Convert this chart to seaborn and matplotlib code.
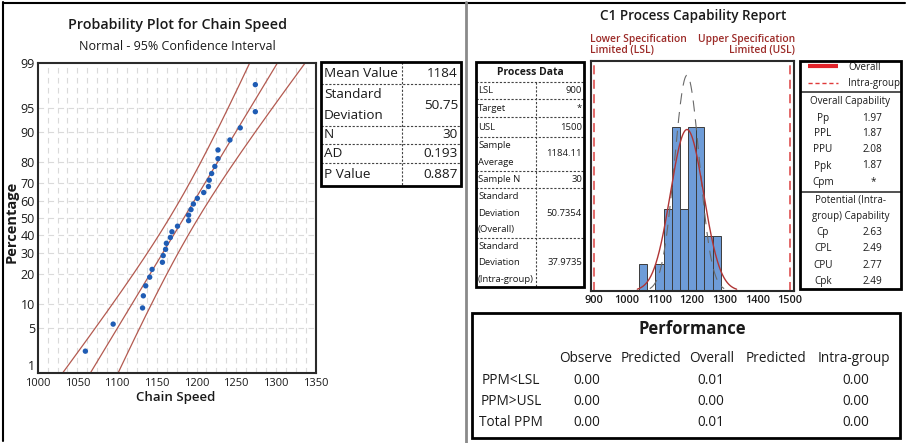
import numpy as np
import pandas as pd
import matplotlib
matplotlib.use("Agg")
import matplotlib.pyplot as plt
import seaborn as sns
from statistics import NormalDist
from matplotlib.patches import Rectangle

# ---------------- data ----------------
chain_speed = [1060, 1095, 1132, 1133, 1136, 1141, 1144, 1157, 1158, 1161,
               1162, 1167, 1169, 1176, 1190, 1190, 1193, 1196, 1201, 1209,
               1215, 1216, 1219, 1223, 1227, 1227, 1242, 1255, 1274, 1274]
prob_ticks = [1, 5, 10, 20, 30, 40, 50, 60, 70, 80, 90, 95, 99]
speed_ticks = [1000, 1050, 1100, 1150, 1200, 1250, 1300, 1350]
cap_ticks = [900, 1000, 1100, 1200, 1300, 1400, 1500]

stats_labels = [["Mean Value"], ["Standard", "Deviation"], ["N"], ["AD"], ["P Value"]]
stats_values = ["1184", "50.75", "30", "0.193", "0.887"]

lsl = 900
usl = 1500
sample_mean = 1184.11
sd_overall = 50.7354
sd_intra = 37.9735
bin_width = 25

process_labels = [["LSL"], ["Target"], ["USL"], ["Sample", "Average"], ["Sample N"],
                  ["Standard", "Deviation", "(Overall)"],
                  ["Standard", "Deviation", "(Intra-group)"]]
process_values = ["900", "*", "1500", "1184.11", "30", "50.7354", "37.9735"]

overall_cap_labels = ["Pp", "PPL", "PPU", "Ppk", "Cpm"]
overall_cap_values = ["1.97", "1.87", "2.08", "1.87", "*"]
potential_labels = ["Cp", "CPL", "CPU", "Cpk"]
potential_values = ["2.63", "2.49", "2.77", "2.49"]

perf_columns = ["Observe", "Predicted", "Overall", "Predicted", "Intra-group"]
perf_rows = ["PPM<LSL", "PPM>USL", "Total PPM"]
perf_observed = ["0.00", "0.00", "0.00"]
perf_overall = ["0.01", "0.00", "0.01"]
perf_intra = ["0.00", "0.00", "0.00"]

# ---------------- setup ----------------
sns.set_style("white")
plt.rcParams['font.family'] = ['Open Sans', 'DejaVu Sans']
W, H = 907, 443
fig = plt.figure(figsize=(W / 100, H / 100), dpi=100)


def px_rect(x0, y0, x1, y1):
    return [x0 / W, 1 - y1 / H, (x1 - x0) / W, (y1 - y0) / H]


ov = fig.add_axes([0, 0, 1, 1])
ov.set_xlim(0, W)
ov.set_ylim(H, 0)
ov.axis('off')
ov.patch.set_alpha(0)

TXT = '#1a1a1a'


def T(x, y, s, **kw):
    kw.setdefault('color', TXT)
    kw.setdefault('va', 'center')
    ov.text(x, y, s, **kw)


def hline(x0, x1, y, dashed=True, lw=0.8, color='#444444'):
    ov.plot([x0, x1], [y, y], color=color, lw=lw, ls=(0, (2, 1.5)) if dashed else '-',
            solid_capstyle='butt')


def vline(x, y0, y1, dashed=True, lw=0.8, color='#444444'):
    ov.plot([x, x], [y0, y1], color=color, lw=lw, ls=(0, (2, 1.5)) if dashed else '-',
            solid_capstyle='butt')


# frame lines
ov.plot([3, 905], [2.5, 2.5], color='black', lw=1.5)
ov.plot([3, 3], [2, 441], color='black', lw=1.5)
ov.plot([466, 466], [2, 443], color='#8a8a8a', lw=2)

# ---------------- probability plot ----------------
nd = NormalDist()
n = len(chain_speed)
sorted_speed = sorted(chain_speed)
zpos = [nd.inv_cdf((i + 1 - 0.3) / (n + 0.4)) for i in range(n)]
df = pd.DataFrame({"speed": sorted_speed, "z": zpos})

ax1 = fig.add_axes(px_rect(37.7, 62.5, 315.7, 373.3))
zt = [nd.inv_cdf(p / 100) for p in prob_ticks]
for xg in np.arange(speed_ticks[0] + 12.5, speed_ticks[-1], 12.5):
    ax1.axvline(xg, color='#dadada', lw=0.8, ls=(0, (5, 4)), zorder=0)
for yg in zt[1:-1]:
    ax1.axhline(yg, color='#dadada', lw=0.8, ls=(0, (5, 4)), zorder=0)

zg = np.linspace(-2.8, 2.8, 300)
sd_fit = float(stats_values[1])
fitx = sample_mean + zg * sd_fit
se = sd_fit * np.sqrt(1 / n + zg ** 2 / (2 * n))
line_col = '#b35a50'
for xs in (fitx, fitx - 1.96 * se, fitx + 1.96 * se):
    sns.lineplot(x=xs, y=zg, ax=ax1, color=line_col, lw=0.9, sort=False,
                 estimator=None, zorder=2)
sns.scatterplot(data=df, x="speed", y="z", ax=ax1, color="#1f5cb4", s=15,
                edgecolor="none", zorder=4)
ax1.set_xlim(speed_ticks[0], speed_ticks[-1])
ax1.set_ylim(zt[0], zt[-1])
ax1.set_xticks(speed_ticks)
ax1.set_yticks(zt)
ax1.set_yticklabels([str(p) for p in prob_ticks])
ax1.tick_params(axis='y', length=0, pad=2, labelsize=9, colors=TXT)
ax1.tick_params(axis='x', length=0, pad=3.5, labelsize=8, colors=TXT)
ax1.get_yticklabels()[0].set_va('bottom')
ax1.set_xlabel("")
ax1.set_ylabel("")
for s in ax1.spines.values():
    s.set_color('#2a2a2a')
    s.set_linewidth(1.5)

T(177, 25, "Probability Plot for Chain Speed", ha='center', fontsize=10.3, fontweight='semibold')
T(177, 46.5, "Normal - 95% Confidence Interval", ha='center', fontsize=9)
T(176, 398, "Chain Speed", ha='center', fontsize=9.5, fontweight='semibold')
T(12, 222, "Percentage", ha='center', fontsize=10.5, fontweight='bold', rotation=90)

# stats table
sx0, sx1, sxs = 321, 461, 402
srows = [62, 84, 126, 144, 163, 186]
for i, (lab, val) in enumerate(zip(stats_labels, stats_values)):
    y0, y1 = srows[i], srows[i + 1]
    if len(lab) == 1:
        T(324, (y0 + y1) / 2, lab[0], fontsize=9.7)
    else:
        T(324, y0 + 10, lab[0], fontsize=9.7)
        T(324, y1 - 11, lab[1], fontsize=9.7)
    T(458, (y0 + y1) / 2, val, ha='right', fontsize=9.7)
    if i > 0:
        hline(sx0, sx1, y0)
vline(sxs, srows[0], srows[-1])
ov.add_patch(Rectangle((sx0, srows[0]), sx1 - sx0, srows[-1] - srows[0], fill=False,
                       lw=2, ec='black', zorder=5))

# ---------------- capability report ----------------
T(693, 16, "C1 Process Capability Report", ha='center', fontsize=9.8, fontweight='semibold')
red_txt = '#9c2b28'
T(590, 39, "Lower Specification", ha='left', fontsize=7.4, fontweight='semibold', color=red_txt)
T(590, 50.5, "Limited (LSL)", ha='left', fontsize=7.4, fontweight='semibold', color=red_txt)
T(795, 39, "Upper Specification", ha='right', fontsize=7.4, fontweight='semibold', color=red_txt)
T(795, 50.5, "Limited (USL)", ha='right', fontsize=7.4, fontweight='semibold', color=red_txt)

# process data table
px0, px1, pxs = 476, 584, 536
prow = [82, 99, 117, 137, 171, 188, 238, 287]
T((px0 + px1) / 2, 72, "Process Data", ha='center', fontsize=7.5, fontweight='bold')
hline(px0, px1, prow[0])
for i, (lab, val) in enumerate(zip(process_labels, process_values)):
    y0, y1 = prow[i], prow[i + 1]
    k = len(lab)
    step = 16.5
    yc = (y0 + y1) / 2
    for j, line in enumerate(lab):
        T(478, yc + (j - (k - 1) / 2) * step, line, fontsize=6.8)
    T(582, yc, val, ha='right', fontsize=6.8)
    if i > 0:
        hline(px0, px1, y0)
vline(pxs, prow[0], prow[-1])
ov.add_patch(Rectangle((px0, 62), px1 - px0, prow[-1] - 62, fill=False, lw=2,
                       ec='black', zorder=5))

# histogram
ax2 = fig.add_axes(px_rect(591, 61, 794, 291))
edges = np.arange(1037.5, 1300, bin_width)
sns.histplot(x=chain_speed, bins=edges, ax=ax2, color='#6e9cd8', edgecolor='#3c3c3c',
             linewidth=0.7, alpha=1, stat='count', zorder=2)
nd_o = NormalDist(sample_mean, sd_overall)
nd_i = NormalDist(sample_mean, sd_intra)
xo = np.linspace(sample_mean - 3 * sd_overall, sample_mean + 3 * sd_overall, 300)
xi = np.linspace(sample_mean - 3 * sd_intra, sample_mean + 3 * sd_intra, 300)
yo = [n * bin_width * nd_o.pdf(v) for v in xo]
yi = [n * bin_width * nd_i.pdf(v) for v in xi]
sns.lineplot(x=xi, y=yi, ax=ax2, color='#6a6a6a', lw=0.8, ls=(0, (10, 7)), zorder=3)
sns.lineplot(x=xo, y=yo, ax=ax2, color='#b03535', lw=1.0, zorder=4)
for spec in (lsl, usl):
    ax2.axvline(spec, color='#e05e5e', lw=1.3, ls=(0, (5, 3)), zorder=1)
ax2.set_xlim(890, 1512)
ax2.set_ylim(0, 8.4)
ax2.set_xticks(cap_ticks)
ax2.set_yticks([])
ax2.set_xlabel("")
ax2.set_ylabel("")
ax2.tick_params(length=0, pad=3, labelsize=7.8, colors=TXT)
for lab in ax2.get_xticklabels():
    lab.set_fontweight('semibold')
for s in ax2.spines.values():
    s.set_color('#2a2a2a')
    s.set_linewidth(1.5)

# right capability table
rx0, rx1 = 800, 901
ov.plot([808, 838], [66, 66], color='#e3232a', lw=3, solid_capstyle='butt')
ov.plot([808, 838], [83, 83], color='#e03a3a', lw=1, ls=(0, (3, 2)))
T(848, 67, "Overall", fontsize=7)
T(848, 83, "Intra-group", fontsize=7)
hline(rx0, rx1, 92, dashed=False, lw=1.2, color='#333333')
T((rx0 + rx1) / 2, 101, "Overall Capability", ha='center', fontsize=7)
for k, (lab, val) in enumerate(zip(overall_cap_labels, overall_cap_values)):
    y = 118 + k * 16
    T(823, y, lab, ha='center', fontsize=7.2)
    if val == '*':
        T(873, y, val, ha='center', fontsize=7.2)
    else:
        T(882, y, val, ha='right', fontsize=7.2)
hline(rx0, rx1, 192, dashed=False, lw=1.2, color='#333333')
T((rx0 + rx1) / 2, 200, "Potential (Intra-", ha='center', fontsize=7)
T((rx0 + rx1) / 2, 216, "group) Capability", ha='center', fontsize=7)
for k, (lab, val) in enumerate(zip(potential_labels, potential_values)):
    y = 232.5 + k * 16.3
    T(823, y, lab, ha='center', fontsize=7.2)
    T(882, y, val, ha='right', fontsize=7.2)
ov.add_patch(Rectangle((rx0, 61), rx1 - rx0, 289 - 61, fill=False, lw=2, ec='black', zorder=5))

# performance table
ov.add_patch(Rectangle((472, 313), 900 - 472, 438 - 313, fill=False, lw=2, ec='black', zorder=5))
T(692, 329, "Performance", ha='center', fontsize=12, fontweight='bold')
col_x = [586, 651, 712, 776, 854]
for cx, c in zip(col_x, perf_columns):
    T(cx, 358, c, ha='center', fontsize=9.8)
for r, lab in enumerate(perf_rows):
    y = 380 + r * 21.5
    T(511, y, lab, ha='center', fontsize=9.8)
    T(587, y, perf_observed[r], ha='center', fontsize=9.8)
    T(711, y, perf_overall[r], ha='center', fontsize=9.8)
    T(856, y, perf_intra[r], ha='center', fontsize=9.8)

fig.savefig("out.png", dpi=100)
